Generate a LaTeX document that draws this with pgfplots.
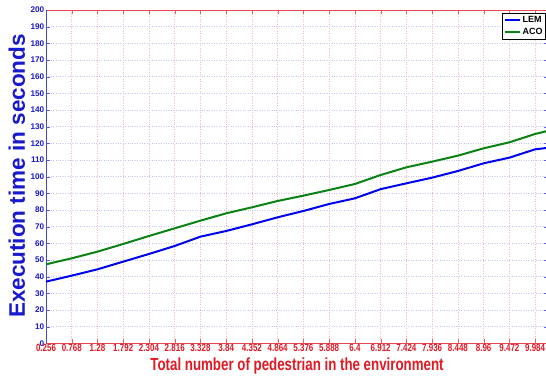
\documentclass[border=0pt]{standalone}
\usepackage{pgfplots}
\pgfplotsset{compat=1.18}
\usepackage{fontspec}
\setmainfont{Liberation Sans}
\newfontfamily\narrowfont[FakeStretch=0.76]{Liberation Sans}
\definecolor{mred}{RGB}{225,25,35}
\definecolor{mblue}{RGB}{25,25,205}
\definecolor{lemblue}{RGB}{0,0,240}
\definecolor{acogreen}{RGB}{10,130,20}
\begin{document}
\begin{tikzpicture}
\useasboundingbox (-46pt,-33.7pt) rectangle (500pt,343.3pt);
\fill[white] (-46pt,-33.7pt) rectangle (500pt,343.3pt);
\begin{axis}[
  at={(0,0)}, anchor=south west,
  scale only axis, width=502pt, height=333.3pt,
  xmin=0.256, xmax=10.24, ymin=0, ymax=200,
  xtick={0.256,0.768,1.28,1.792,2.304,2.816,3.328,3.84,4.352,4.864,5.376,5.888,6.4,6.912,7.424,7.936,8.448,8.96,9.472,9.984},
  xticklabels={0.256,0.768,1.28,1.792,2.304,2.816,3.328,3.84,4.352,4.864,5.376,5.888,6.4,6.912,7.424,7.936,8.448,8.96,9.472,9.984},
  ytick={0,10,...,200},
  grid=major,
  every axis x grid/.append style={dotted, mred!30, line width=0.5pt},
  every axis y grid/.append style={dotted, mblue!25, line width=0.5pt},
  separate axis lines,
  x axis line style={mred!80, line width=0.8pt},
  y axis line style={mblue!80, line width=0.8pt},
  tick align=inside, major tick length=4pt,
  xtick style={mred!70}, ytick style={mblue!70},
  /pgf/number format/assume math mode=true,
  xticklabel style={font=\narrowfont\bfseries\fontsize{10.5}{10.5}\selectfont, text=mred, inner sep=1pt},
  yticklabel style={font=\bfseries\fontsize{8.2}{8.2}\selectfont, text=mblue, inner sep=1.5pt},
  xlabel={Total number of pedestrian in the environment},
  xlabel style={font=\narrowfont\bfseries\fontsize{17.5}{17.5}\selectfont, text=mred, at={(axis description cs:0.5,0)}, anchor=center, yshift=-23.1pt},
  ylabel={Execution time in seconds},
  ylabel style={font=\bfseries\fontsize{22.5}{22.5}\selectfont, text=mblue, at={(axis description cs:0,0.502)}, anchor=center, yshift=29.2pt},
  legend style={at={(rel axis cs:0.9954,0.992)}, anchor=north east, draw=black, fill=white, font=\bfseries\fontsize{9}{9}\selectfont, inner sep=1pt, row sep=1pt},
  legend cell align=left,
  legend image code/.code={\draw[#1, line width=2pt] (0pt,0pt) -- (15pt,0pt);},
]
\addplot[lemblue, line width=2pt] coordinates {
(0.256,37.0) (0.768,40.6) (1.28,44.4) (1.792,49.0) (2.304,53.6) (2.816,58.4)
(3.328,64.0) (3.84,67.4) (4.352,71.4) (4.864,75.6) (5.376,79.4) (5.888,83.6)
(6.4,87.0) (6.912,92.5) (7.424,96.0) (7.936,99.4) (8.448,103.4) (8.96,108.0)
(9.472,111.4) (9.984,116.4) (10.24,117.3)
};
\addlegendentry{LEM}
\addplot[acogreen, line width=2pt] coordinates {
(0.256,47.4) (0.768,51.0) (1.28,55.0) (1.792,59.6) (2.304,64.4) (2.816,69.0)
(3.328,73.6) (3.84,78.0) (4.352,81.6) (4.864,85.4) (5.376,88.6) (5.888,92.0)
(6.4,95.6) (6.912,101.0) (7.424,105.6) (7.936,109.0) (8.448,112.6) (8.96,117.0)
(9.472,120.6) (9.984,125.6) (10.24,127.5)
};
\addlegendentry{ACO}
\node[anchor=base west, font=\narrowfont\bfseries\fontsize{8}{8}\selectfont, text=mred, inner sep=0pt] at (rel axis cs:0.9735,-0.0852) {x 10\textsuperscript{4}};
\end{axis}
\end{tikzpicture}
\end{document}
